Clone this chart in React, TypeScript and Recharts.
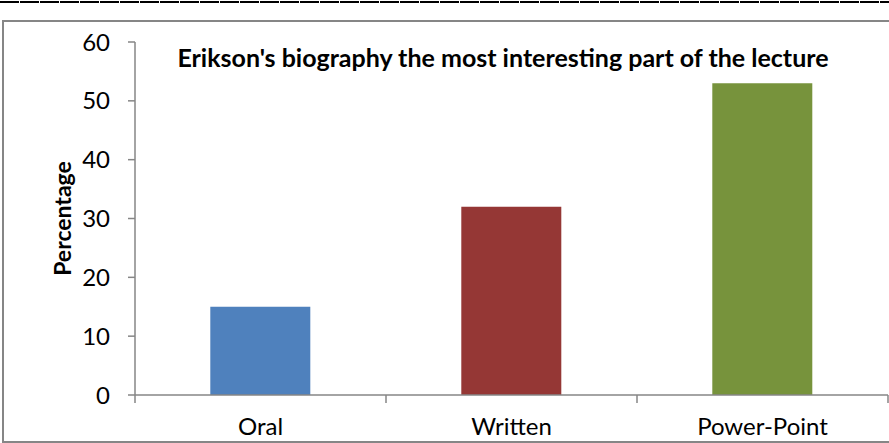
import { BarChart, Bar, XAxis, YAxis, Cell } from "recharts";

const categories = ["Oral", "Written", "Power-Point"];
const percentages = [15, 32, 53];
const barColors = ["#4F81BD", "#953735", "#77933C"];
const yTicks = [0, 10, 20, 30, 40, 50, 60];

const chartTitle = "Erikson's biography the most interesting part of the lecture";
const yLabel = "Percentage";

const data = categories.map((name, i) => ({ name, value: percentages[i] }));

const W = 889;
const H = 443;
const PLOT_LEFT = 135;
const PLOT_RIGHT = 888;
const PLOT_TOP = 42;
const PLOT_BOTTOM = 395;
const AXIS_GRAY = "#868686";
const FONT = "Lato, 'Open Sans', sans-serif";

const bandWidth = (PLOT_RIGHT - PLOT_LEFT) / categories.length;

// Category label at the band centre, tick marks on the band boundaries
function CategoryTick(props: any) {
  const { x, y, payload, index } = props;
  const left = x - bandWidth / 2;
  return (
    <g>
      <line x1={left} x2={left} y1={y - 8} y2={y} stroke={AXIS_GRAY} strokeWidth={1.5} />
      {index === categories.length - 1 && (
        <line x1={left + bandWidth} x2={left + bandWidth} y1={y - 8} y2={y} stroke={AXIS_GRAY} strokeWidth={1.5} />
      )}
      <text x={x} y={y + 32} textAnchor="middle" fill="#000" fontSize={24} fontFamily={FONT}>
        {payload.value}
      </text>
    </g>
  );
}

export default function App() {
  return (
    <div
      style={{
        position: "absolute",
        left: 0,
        top: 0,
        width: W,
        height: H,
        overflow: "hidden",
        background: "#fff",
      }}
    >
      {/* underscore rule across the top */}
      <svg width={W} height={6} style={{ position: "absolute", left: 0, top: 0 }}>
        <line x1={0} x2={W} y1={2} y2={2} stroke="#000" strokeWidth={2} strokeDasharray="19 1" />
      </svg>

      {/* chart frame */}
      <div
        style={{
          position: "absolute",
          left: 2,
          top: 20,
          width: 900,
          height: 419,
          border: `2px solid ${AXIS_GRAY}`,
        }}
      />

      <div style={{ position: "absolute", left: 0, top: 0 }}>
        <BarChart
          width={W}
          height={H}
          data={data}
          margin={{ top: PLOT_TOP, right: W - PLOT_RIGHT, bottom: 0, left: 0 }}
          barCategoryGap="30%"
        >
          <XAxis
            dataKey="name"
            height={H - PLOT_BOTTOM}
            stroke={AXIS_GRAY}
            strokeWidth={1.5}
            tickLine={false}
            tick={<CategoryTick />}
            interval={0}
          />
          <YAxis
            width={PLOT_LEFT}
            domain={[0, 60]}
            ticks={yTicks}
            interval={0}
            stroke={AXIS_GRAY}
            strokeWidth={1.5}
            tickSize={7}
            tickMargin={18}
            tick={{ fill: "#000", fontSize: 24, fontFamily: FONT }}
            label={{
              value: yLabel,
              angle: -90,
              position: "center",
              dx: -5,
              style: { fill: "#000", fontSize: 23, fontWeight: 700, fontFamily: FONT },
            }}
          />
          <Bar dataKey="value" isAnimationActive={false}>
            {data.map((d, i) => (
              <Cell key={d.name} fill={barColors[i]} />
            ))}
          </Bar>
        </BarChart>
      </div>

      <div
        style={{
          position: "absolute",
          left: 163,
          top: 42,
          width: 680,
          textAlign: "center",
          fontFamily: FONT,
          fontWeight: 700,
          fontSize: 25,
          color: "#000",
          whiteSpace: "nowrap",
        }}
      >
        {chartTitle}
      </div>
    </div>
  );
}
